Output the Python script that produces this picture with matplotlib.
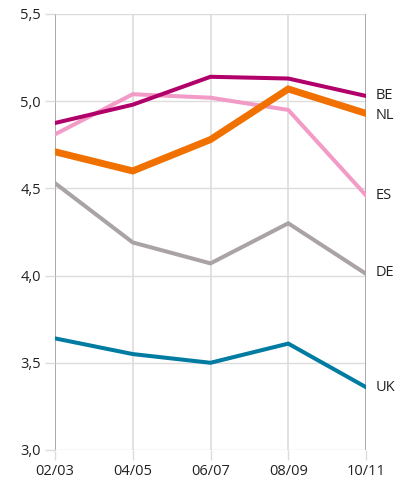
import matplotlib
matplotlib.use("Agg")
import matplotlib.pyplot as plt

# --- data ---
periods = ["02/03", "04/05", "06/07", "08/09", "10/11"]
yticks = [3.0, 3.5, 4.0, 4.5, 5.0, 5.5]

be = [4.875, 4.98, 5.14, 5.13, 5.03]
es = [4.81, 5.04, 5.02, 4.95, 4.46]
nl = [4.71, 4.60, 4.78, 5.07, 4.93]
de = [4.53, 4.19, 4.07, 4.30, 4.01]
uk = [3.64, 3.55, 3.50, 3.61, 3.36]

series = [
    ("ES", es, "#f29bc6", 2.9),
    ("DE", de, "#aaa3a6", 2.9),
    ("UK", uk, "#007ba1", 2.9),
    ("NL", nl, "#f07000", 5.0),
    ("BE", be, "#b2006b", 2.9),
]
label_y = {"BE": 5.03, "NL": 4.92, "ES": 4.46, "DE": 4.02, "UK": 3.36}

plt.rcParams["font.family"] = ["Open Sans", "DejaVu Sans"]

fig = plt.figure(figsize=(4.06, 4.86), dpi=100)
ax = fig.add_axes([0.1355, 0.0741, 0.766, 0.8971])

x = list(range(len(periods)))

# grid
for yv in yticks:
    ax.axhline(yv, color="#dcdcdc", lw=1.0, zorder=0)
for xv in x[1:-1]:
    ax.axvline(xv, color="#dcdcdc", lw=1.2, zorder=0)
for xv in (x[0], x[-1]):
    ax.axvline(xv, color="#a09a9c", lw=1.2, zorder=1)

for name, vals, col, lw in series:
    ax.plot(x, vals, color=col, lw=lw, solid_joinstyle="miter", zorder=3)
    ax.text(x[-1] + 0.13, label_y[name], name, fontsize=10.5, color="#222222",
            va="center", ha="left")

ax.set_xlim(x[0], x[-1])
ax.set_ylim(3.0, 5.5)
ax.set_xticks(x)
ax.set_xticklabels(periods)
ax.set_yticks(yticks)
ax.set_yticklabels([("%.1f" % v).replace(".", ",") for v in yticks])
ax.tick_params(axis="both", length=7, color="#dcdcdc", width=1.0,
               labelsize=10.5, labelcolor="#222222")
ax.tick_params(axis="x", pad=3)
ax.tick_params(axis="y", pad=3)
for s in ax.spines.values():
    s.set_visible(False)

fig.savefig("out.png", dpi=100)
